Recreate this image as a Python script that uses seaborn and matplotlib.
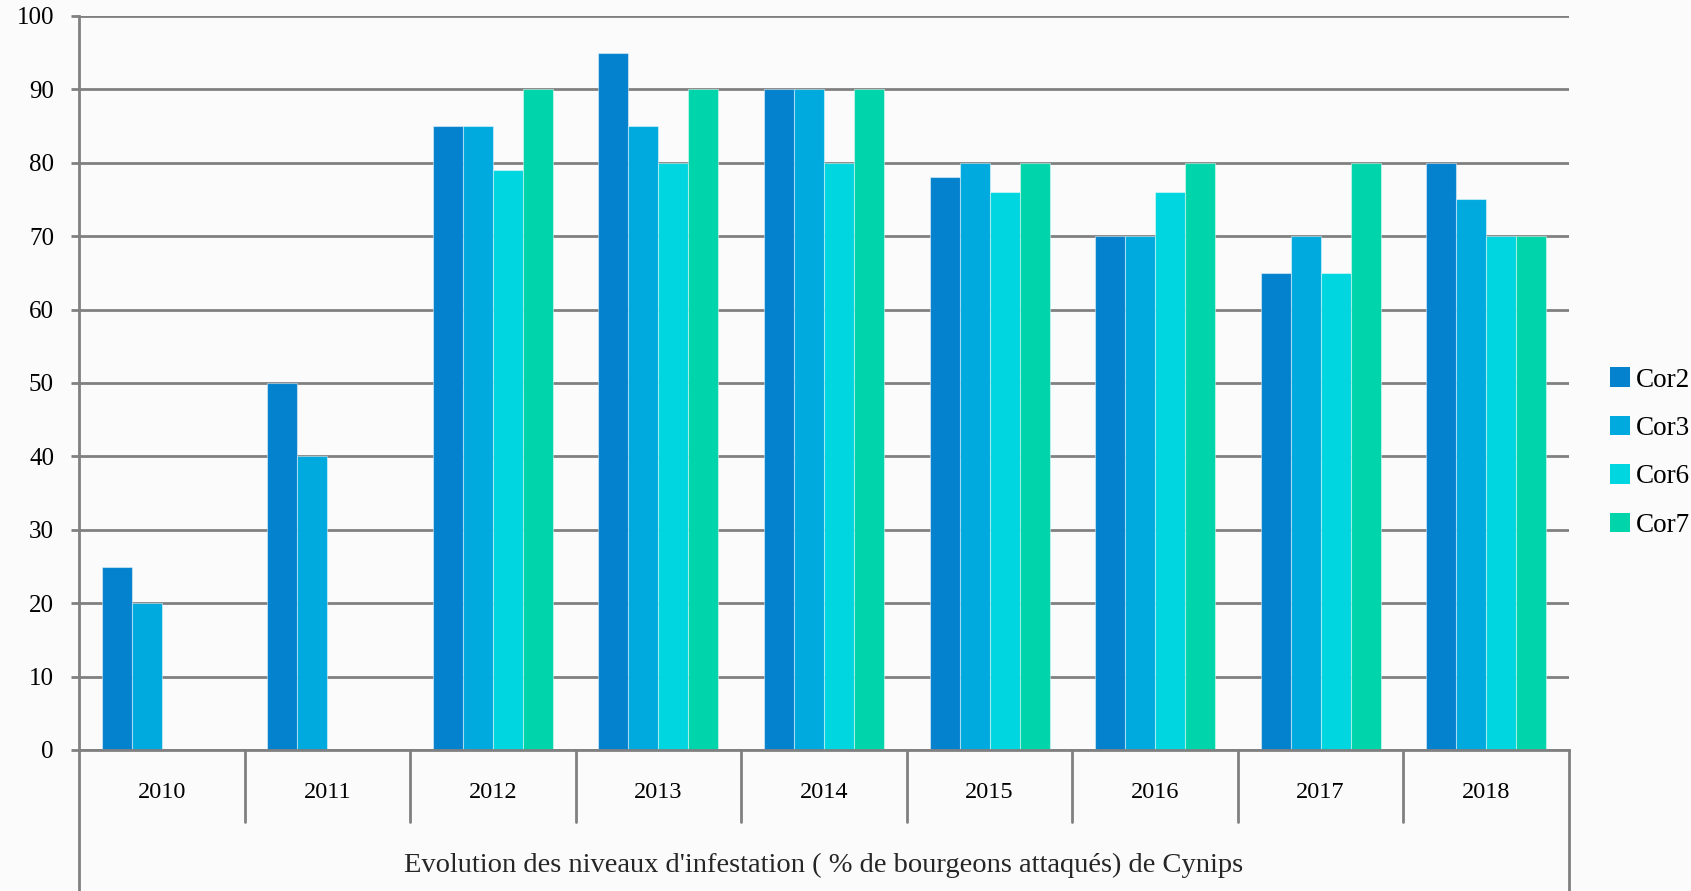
import numpy as np
import pandas as pd
import seaborn as sns
import matplotlib.pyplot as plt
from matplotlib.patches import Patch

annees = ['2010', '2011', '2012', '2013', '2014', '2015', '2016', '2017', '2018']
cor2 = [25, 50, 85, 95, 90, 78, 70, 65, 80]
cor3 = [20, 40, 85, 85, 90, 80, 70, 70, 75]
cor6 = [None, None, 79, 80, 80, 76, 76, 65, 70]
cor7 = [None, None, 90, 90, 90, 80, 80, 80, 70]
series = ['Cor2', 'Cor3', 'Cor6', 'Cor7']
couleurs = ['#0582CD', '#00AADE', '#00D6E0', '#00D4AA']
titre = "Evolution des niveaux d'infestation ( % de bourgeons attaqués) de Cynips"

rows = []
for nom, vals in zip(series, [cor2, cor3, cor6, cor7]):
    for a, v in zip(annees, vals):
        rows.append((a, nom, v))
df = pd.DataFrame(rows, columns=['annee', 'serie', 'valeur'])
df['valeur'] = df['valeur'].astype(float)

sns.set_style('white')
plt.rcParams['font.family'] = ['Liberation Serif', 'DejaVu Serif']
plt.rcParams['text.color'] = 'black'
plt.rcParams['xtick.labelcolor'] = 'black'
plt.rcParams['ytick.labelcolor'] = 'black'

fig = plt.figure(figsize=(16.91, 8.91), dpi=100, facecolor='#fbfbfb')
ax = fig.add_axes([79 / 1691, 141 / 891, 1490 / 1691, 734 / 891])
ax.set_facecolor('#fbfbfb')

sns.barplot(data=df.dropna(), x='annee', y='valeur', hue='serie', order=annees,
            hue_order=series, palette=couleurs, width=0.725, saturation=1,
            errorbar=None, edgecolor=(1, 1, 1, 0.45), linewidth=0.8, ax=ax)

gris = '#808080'
ax.set_ylim(0, 100)
ax.set_xlim(-0.5, len(annees) - 0.5)
ax.set_yticks(range(0, 101, 10))
ax.set_axisbelow(True)
ax.yaxis.grid(True, color=gris, linewidth=2.0)
ax.tick_params(axis='y', length=6, width=2.0, color=gris, pad=12, labelsize=18, left=True)
ax.tick_params(axis='x', length=0, pad=23, labelsize=17.5)
ax.set_ylabel('')
ax.set_xlabel(titre, fontsize=20.5, labelpad=36)

for s in ['top', 'right']:
    ax.spines[s].set_visible(False)
for s in ['left', 'bottom']:
    ax.spines[s].set_color(gris)
    ax.spines[s].set_linewidth(2.0)

# lignes du tableau des catégories sous l'axe
trans = ax.get_xaxis_transform()
for i in range(1, len(annees)):
    ax.plot([i - 0.5, i - 0.5], [0, -0.098], transform=trans, color=gris,
            linewidth=2.0, clip_on=False)
for xb in [-0.5, len(annees) - 0.5]:
    ax.plot([xb, xb], [0, -0.2], transform=trans, color=gris,
            linewidth=2.0, clip_on=False)

ax.get_legend().remove()
handles = [Patch(facecolor=c, edgecolor='none') for c in couleurs]
fig.legend(handles, series, loc='center left', bbox_to_anchor=(1610 / 1691, 0.492),
           frameon=False, fontsize=19.5, handlelength=0.72, handleheight=0.72,
           handletextpad=0.25, labelspacing=0.86, borderpad=0, borderaxespad=0)

plt.savefig('out.png', dpi=100, facecolor=fig.get_facecolor())
